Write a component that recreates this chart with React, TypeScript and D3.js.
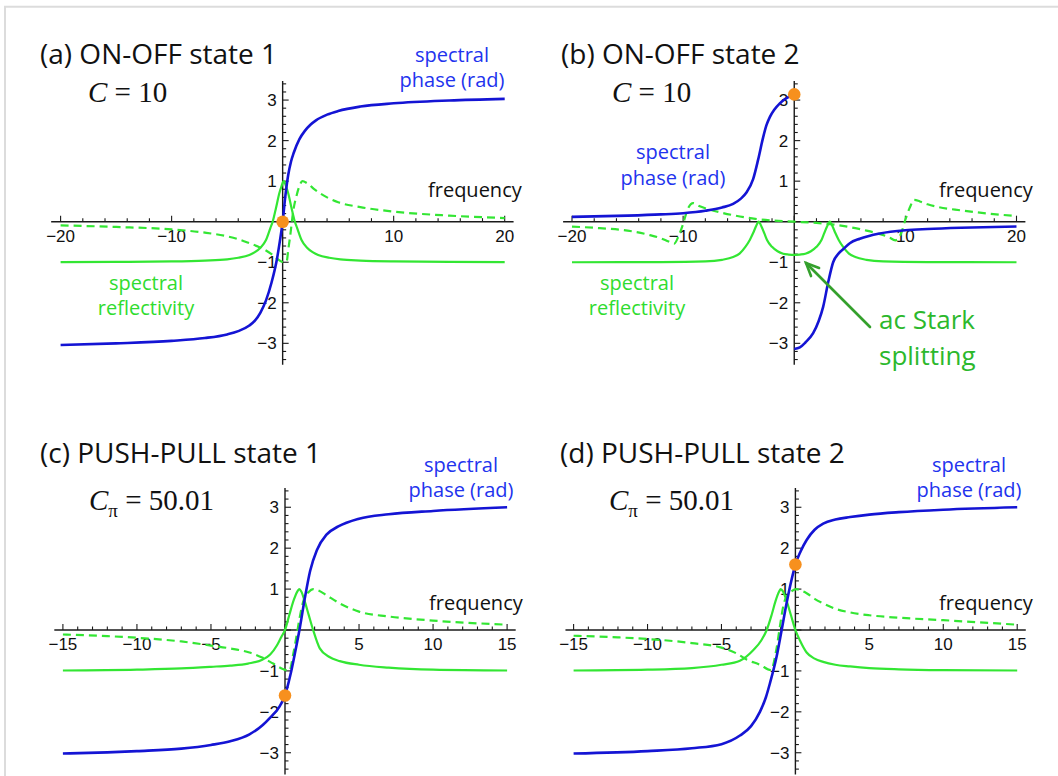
import React from "react";
import * as d3 from "d3";

type P = [number, number];

// ---------- data ----------
const phaseA: P[] = [[-20,-3.04],[-15,-3.0],[-10,-2.94],[-7,-2.87],[-5,-2.78],[-4,-2.7],[-3,-2.56],[-2.5,-2.44],[-2,-2.24],[-1.5,-1.94],[-1,-1.5],[-0.5,-0.9],[-0.25,-0.48],[0,0],[0.25,0.65],[0.5,1.15],[0.75,1.48],[1,1.7],[1.5,2.03],[2,2.24],[2.5,2.39],[3,2.5],[4,2.64],[5,2.73],[7,2.84],[10,2.92],[15,2.99],[20,3.03]];
const reflA: P[] = [[-20,-0.995],[-15,-0.99],[-10,-0.98],[-7,-0.96],[-5,-0.93],[-4,-0.89],[-3,-0.82],[-2.5,-0.75],[-2,-0.64],[-1.5,-0.45],[-1.1,-0.15],[-0.9,0.0],[-0.6,0.34],[-0.3,0.7],[-0.1,0.88],[0.1,1.0],[0.3,0.88],[0.5,0.7],[0.8,0.34],[1.1,0.0],[1.3,-0.15],[1.7,-0.45],[2.2,-0.64],[2.7,-0.75],[3.2,-0.82],[4.2,-0.89],[5.2,-0.93],[7,-0.96],[10,-0.98],[15,-0.99],[20,-0.995]];
const dashA: P[] = [[-20,-0.09],[-15,-0.13],[-10,-0.19],[-7,-0.27],[-5,-0.36],[-4,-0.43],[-3,-0.53],[-2,-0.64],[-1.5,-0.71],[-1,-0.8],[-0.5,-0.91],[-0.2,-0.97],[0.1,-1.0],[0.37,-0.97],[0.5,-0.7],[0.67,-0.37],[0.97,0.29],[1.27,0.66],[1.5,0.87],[1.78,1.0],[2.2,0.95],[2.9,0.79],[4,0.6],[5,0.48],[7,0.36],[10,0.25],[15,0.15],[20,0.09]];

const phaseBLeft: P[] = [[-20,0.12],[-15,0.15],[-12,0.18],[-10,0.21],[-8,0.27],[-6.5,0.35],[-5.5,0.44],[-4.8,0.57],[-4.3,0.72],[-3.7,1.05],[-3.25,1.53],[-2.8,2.08],[-2.5,2.38],[-2.2,2.58],[-1.8,2.76],[-1.3,2.92],[-0.8,3.03],[-0.4,3.09],[0,3.14]];
const phaseBRight: P[] = [[0,-3.14],[0.5,-3.1],[1.0,-2.98],[1.7,-2.75],[2.2,-2.45],[2.6,-2.1],[3.05,-1.5],[3.5,-1.0],[4.0,-0.78],[4.4,-0.68],[5.0,-0.53],[5.9,-0.42],[7.7,-0.29],[10,-0.21],[12,-0.18],[15,-0.15],[20,-0.12]];
const reflB: P[] = [[-20,-1.0],[-12,-0.995],[-8,-0.98],[-6.5,-0.94],[-5.5,-0.87],[-4.9,-0.78],[-4.4,-0.62],[-4,-0.45],[-3.7,-0.28],[-3.45,-0.12],[-3.2,0],[-2.95,-0.12],[-2.7,-0.28],[-2.45,-0.45],[-2,-0.62],[-1.5,-0.73],[-1,-0.79],[-0.5,-0.81],[0,-0.82],[0.5,-0.81],[1,-0.79],[1.5,-0.73],[2,-0.62],[2.45,-0.45],[2.7,-0.28],[2.95,-0.12],[3.2,0],[3.45,-0.12],[3.7,-0.28],[4,-0.45],[4.4,-0.62],[4.9,-0.78],[5.5,-0.87],[6.5,-0.94],[8,-0.98],[12,-0.995],[20,-1.0]];
const dashB: P[] = [[-20,-0.12],[-17.5,-0.16],[-15,-0.22],[-13,-0.33],[-12,-0.41],[-11.3,-0.49],[-10.8,-0.54],[-10.4,-0.35],[-10,-0.05],[-9.6,0.3],[-9.1,0.46],[-8.5,0.38],[-7.5,0.29],[-6.5,0.22],[-5.5,0.16],[-4.5,0.11],[-3.5,0.07],[-2,0.03],[0,0],[2,-0.03],[3.5,-0.07],[4.5,-0.11],[5.5,-0.16],[6.5,-0.22],[7.5,-0.29],[8.5,-0.38],[9.1,-0.46],[9.6,-0.3],[10,0.05],[10.4,0.35],[10.8,0.54],[11.3,0.5],[12,0.43],[13,0.36],[15,0.28],[17.5,0.2],[20,0.14]];

const phaseC: P[] = [[-15,-3.02],[-12,-2.99],[-10,-2.96],[-7,-2.9],[-5,-2.81],[-3.7,-2.72],[-2.4,-2.55],[-1.5,-2.32],[-1,-2.14],[-0.35,-1.86],[0,-1.6],[0.35,-1.12],[0.68,-0.55],[1,0.05],[1.35,0.8],[1.7,1.45],[2.15,1.95],[2.8,2.33],[3.6,2.53],[5,2.72],[7,2.83],[10,2.91],[15,3.0]];
const reflC: P[] = [[-15,-0.99],[-10,-0.97],[-7,-0.94],[-5,-0.9],[-3.7,-0.87],[-2.5,-0.82],[-1.5,-0.72],[-1,-0.6],[-0.55,-0.38],[-0.25,-0.17],[0,0],[0.3,0.38],[0.6,0.74],[0.85,0.95],[0.97,1.0],[1.1,0.94],[1.35,0.68],[1.6,0.37],[1.9,0],[2.35,-0.45],[3,-0.66],[3.7,-0.76],[5,-0.85],[7,-0.92],[10,-0.97],[15,-0.99]];
const dashC: P[] = [[-15,-0.11],[-12,-0.15],[-10,-0.19],[-7,-0.28],[-5,-0.38],[-3.7,-0.45],[-2.4,-0.55],[-1.5,-0.68],[-0.8,-0.82],[-0.1,-0.96],[0.3,-1.0],[0.55,-0.6],[0.8,-0.1],[1.0,0.32],[1.25,0.72],[1.6,0.93],[1.9,1.0],[2.3,0.96],[2.8,0.85],[3.7,0.65],[5,0.45],[7,0.33],[10,0.23],[15,0.13]];

const phaseD: P[] = [[-15,-3.02],[-10,-2.96],[-7,-2.89],[-5,-2.79],[-3.75,-2.58],[-3,-2.35],[-2.4,-2.0],[-2,-1.65],[-1.72,-1.3],[-1.27,-0.65],[-0.93,0],[-0.6,0.65],[-0.26,1.23],[0,1.6],[0.35,1.92],[0.76,2.2],[1.3,2.45],[1.88,2.6],[2.7,2.7],[3.7,2.76],[5,2.82],[7,2.88],[10,2.94],[15,3.0]];
const reflD: P[] = [[-15,-0.99],[-10,-0.97],[-7,-0.93],[-5,-0.85],[-3.75,-0.75],[-2.84,-0.49],[-2.3,-0.25],[-1.94,0],[-1.6,0.38],[-1.35,0.7],[-1.1,0.94],[-0.99,1.0],[-0.85,0.95],[-0.6,0.72],[-0.3,0.36],[0,0],[0.3,-0.25],[0.76,-0.55],[1.3,-0.7],[1.88,-0.78],[2.7,-0.85],[3.7,-0.89],[5,-0.93],[7,-0.96],[10,-0.98],[15,-0.99]];
const dashD: P[] = [[-15,-0.14],[-12,-0.18],[-10,-0.22],[-7,-0.32],[-5,-0.43],[-4,-0.57],[-3.3,-0.72],[-2.4,-0.85],[-1.65,-0.98],[-1.3,-0.5],[-1.0,0.2],[-0.8,0.62],[-0.55,0.84],[-0.25,0.95],[0.05,1.0],[0.4,0.96],[0.76,0.9],[1.3,0.76],[1.88,0.65],[2.7,0.52],[3.7,0.43],[5,0.36],[7,0.3],[10,0.24],[15,0.13]];

const markerPoints: P[] = [[0, 0], [0, 3.14], [0, -1.6], [0, 1.6]];

const yTickLabels = [-3, -2, -1, 1, 2, 3];
const xTickLabelsWide = [-20, -10, 10, 20];
const xTickLabelsNarrow = [-15, -10, -5, 5, 10, 15];

const titles = ["(a) ON-OFF state 1", "(b) ON-OFF state 2", "(c) PUSH-PULL state 1", "(d) PUSH-PULL state 2"];
const paramValues = ["10", "10", "50.01", "50.01"];

// ---------- styles ----------
const BLUE = "#1414d4";
const BLUE_TXT = "#2233ee";
const GREEN = "#33e633";
const GREEN_TXT = "#2fdc2f";
const DKGREEN = "#34a02c";
const ORANGE = "#f7901e";
const SANS = "'Open Sans', Lato, sans-serif";
const TICKFONT = "'Liberation Sans', Arial, sans-serif";
const SERIF = "'Liberation Serif', 'Times New Roman', serif";

type Cfg = {
  xd: [number, number]; xr: [number, number]; xExt: [number, number];
  yr: [number, number]; xLabels: number[]; minorStep: number;
  phase: P[][]; refl: P[]; dash: P[]; marker: P;
};

const cfgs: Cfg[] = [
  { xd: [-20, 20], xr: [60.6, 504.7], xExt: [-20.85, 20.8], yr: [363.6, 79.8], xLabels: xTickLabelsWide, minorStep: 2, phase: [phaseA], refl: reflA, dash: dashA, marker: markerPoints[0] },
  { xd: [-20, 20], xr: [572.0, 1016.5], xExt: [-20.8, 20.8], yr: [363.6, 79.8], xLabels: xTickLabelsWide, minorStep: 2, phase: [phaseBLeft, phaseBRight], refl: reflB, dash: dashB, marker: markerPoints[1] },
  { xd: [-15, 15], xr: [62.9, 507.1], xExt: [-15.58, 15.58], yr: [773.2, 486.8], xLabels: xTickLabelsNarrow, minorStep: 1, phase: [phaseC], refl: reflC, dash: dashC, marker: markerPoints[2] },
  { xd: [-15, 15], xr: [573.6, 1017.2], xExt: [-15.55, 15.58], yr: [773.2, 486.8], xLabels: xTickLabelsNarrow, minorStep: 1, phase: [phaseD], refl: reflD, dash: dashD, marker: markerPoints[3] },
];

const fmt = (v: number) => (v < 0 ? "\u2212" + Math.abs(v) : String(v));

function Panel({ c }: { c: Cfg }) {
  const x = d3.scaleLinear().domain(c.xd).range(c.xr);
  const y = d3.scaleLinear().domain([-3.5, 3.5]).range(c.yr);
  const line = d3.line<P>().x(d => x(d[0])).y(d => y(d[1])).curve(d3.curveMonotoneX);
  const x0 = x(0), y0 = y(0);
  const xMinor = d3.range(c.xd[0], c.xd[1] + 0.001, c.minorStep);
  const yMinor = d3.range(-17, 18).map(i => i * 0.2);
  return (
    <g>
      <line x1={x(c.xExt[0])} x2={x(c.xExt[1])} y1={y0} y2={y0} stroke="#1a1a1a" strokeWidth={1.4} />
      <line x1={x0} x2={x0} y1={y(-3.53)} y2={y(3.47)} stroke="#1a1a1a" strokeWidth={1.4} />
      {xMinor.map((v, i) => {
        const major = Math.abs(v % (c.minorStep * 5)) < 1e-6;
        return <line key={"xm" + i} x1={x(v)} x2={x(v)} y1={y0} y2={y0 - (major ? 6 : 3.5)} stroke="#1a1a1a" strokeWidth={1.1} />;
      })}
      {yMinor.map((v, i) => {
        const major = Math.abs(v - Math.round(v)) < 1e-6;
        return <line key={"ym" + i} x1={x0} x2={x0 + (major ? 6 : 3.5)} y1={y(v)} y2={y(v)} stroke="#1a1a1a" strokeWidth={1.1} />;
      })}
      {c.xLabels.map(v => (
        <text key={"xl" + v} x={x(v)} y={y0 + 20} textAnchor="middle" fontFamily={TICKFONT} fontSize={17} fill="#111">{fmt(v)}</text>
      ))}
      {yTickLabels.map(v => (
        <text key={"yl" + v} x={x0 - 6} y={y(v) + 6} textAnchor="end" fontFamily={TICKFONT} fontSize={17} fill="#111">{fmt(v)}</text>
      ))}
      <path d={line(c.refl) || ""} fill="none" stroke={GREEN} strokeWidth={2.2} />
      <path d={line(c.dash) || ""} fill="none" stroke={GREEN} strokeWidth={2.2} strokeDasharray="8,5" />
      {c.phase.map((p, i) => (
        <path key={"ph" + i} d={line(p) || ""} fill="none" stroke={BLUE} strokeWidth={2.6} />
      ))}
      <circle cx={x(c.marker[0])} cy={y(c.marker[1])} r={6.3} fill={ORANGE} />
    </g>
  );
}

function Param({ x, y, sub, value }: { x: number; y: number; sub: boolean; value: string }) {
  return (
    <text x={x} y={y} fontFamily={SERIF} fontSize={29} fill="#111" xmlSpace="preserve">
      <tspan fontStyle="italic">C</tspan>
      {sub ? <tspan fontSize={19} dy={7}>π</tspan> : null}
      <tspan dy={sub ? -7 : 0}>{" = " + value}</tspan>
    </text>
  );
}

function Two({ cx, y1, y2, a, b, color, size }: { cx: number; y1: number; y2: number; a: string; b: string; color: string; size: number }) {
  return (
    <g fontFamily={SANS} fontSize={size} fill={color} textAnchor="middle">
      <text x={cx} y={y1}>{a}</text>
      <text x={cx} y={y2}>{b}</text>
    </g>
  );
}

export default function App() {
  const arrowTip: P = [806, 263];
  const arrowTail: P = [870, 327];
  const ang = Math.atan2(arrowTail[1] - arrowTip[1], arrowTail[0] - arrowTip[0]);
  const arm = 14, spread = 0.42;
  const h1: P = [arrowTip[0] + arm * Math.cos(ang - spread), arrowTip[1] + arm * Math.sin(ang - spread)];
  const h2: P = [arrowTip[0] + arm * Math.cos(ang + spread), arrowTip[1] + arm * Math.sin(ang + spread)];
  return (
    <svg width={1058} height={776} style={{ position: "absolute", left: 0, top: 0, background: "#fff" }}>
      <rect x={0} y={0} width={1058} height={776} fill="#fff" />
      <line x1={4} x2={1058} y1={6.8} y2={6.8} stroke="#dcdcdc" strokeWidth={2} />
      <line x1={5} x2={5} y1={6} y2={776} stroke="#dcdcdc" strokeWidth={2} />

      {cfgs.map((c, i) => <Panel key={i} c={c} />)}

      <g fontFamily={SANS} fontSize={28} fill="#111">
        <text x={40} y={64}>{titles[0]}</text>
        <text x={561} y={64}>{titles[1]}</text>
        <text x={40} y={463}>{titles[2]}</text>
        <text x={560} y={463}>{titles[3]}</text>
      </g>
      <Param x={88} y={102} sub={false} value={paramValues[0]} />
      <Param x={612} y={102} sub={false} value={paramValues[1]} />
      <Param x={89} y={510} sub={true} value={paramValues[2]} />
      <Param x={609} y={510} sub={true} value={paramValues[3]} />

      <Two cx={452} y1={62} y2={87} a="spectral" b="phase (rad)" color={BLUE_TXT} size={20} />
      <Two cx={673} y1={159} y2={185} a="spectral" b="phase (rad)" color={BLUE_TXT} size={20} />
      <Two cx={461} y1={472} y2={497} a="spectral" b="phase (rad)" color={BLUE_TXT} size={20} />
      <Two cx={969} y1={472} y2={497} a="spectral" b="phase (rad)" color={BLUE_TXT} size={20} />
      <Two cx={146} y1={290} y2={315} a="spectral" b="reflectivity" color={GREEN_TXT} size={20} />
      <Two cx={637} y1={290} y2={315} a="spectral" b="reflectivity" color={GREEN_TXT} size={20} />
      <g fontFamily={SANS} fontSize={20} fill="#111">
        <text x={428} y={197}>frequency</text>
        <text x={939} y={197}>frequency</text>
        <text x={429} y={610}>frequency</text>
        <text x={939} y={610}>frequency</text>
      </g>
      <g fontFamily={SANS} fontSize={26} fill="#2cb82c">
        <text x={879} y={329}>ac Stark</text>
        <text x={879} y={365}>splitting</text>
      </g>
      <g stroke={DKGREEN} strokeWidth={2.6} fill="none" strokeLinecap="round">
        <line x1={arrowTail[0]} y1={arrowTail[1]} x2={arrowTip[0]} y2={arrowTip[1]} />
        <polyline points={`${h1[0]},${h1[1]} ${arrowTip[0]},${arrowTip[1]} ${h2[0]},${h2[1]}`} />
      </g>
    </svg>
  );
}
